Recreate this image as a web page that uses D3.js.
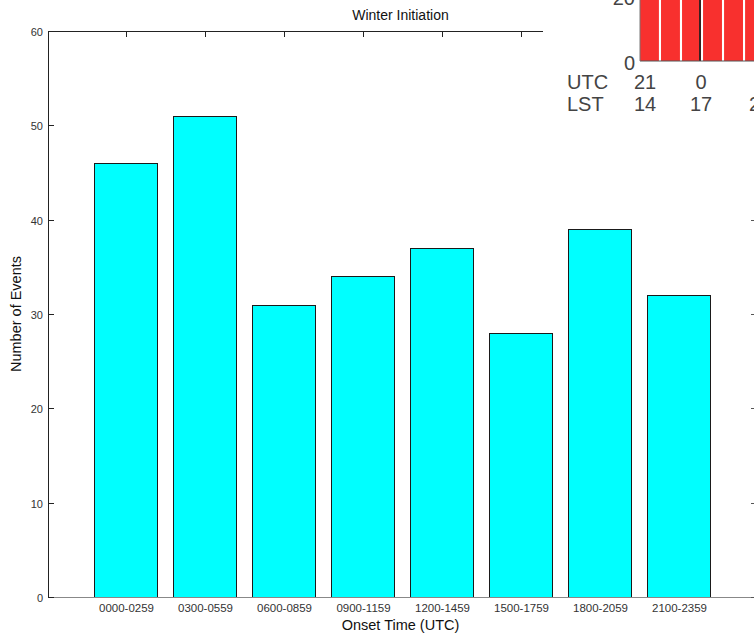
<!DOCTYPE html>
<html>
<head>
<script src="https://d3js.org/d3.v7.min.js" charset="utf-8"></script>
<style>
    body{ margin:0; background:white; }
    text{ font-family:"Liberation Sans", Arial, sans-serif; }
</style>
</head>
<body>
<div id="chart"></div>
<script>
    // main chart data
    var categories = ["0000-0259","0300-0559","0600-0859","0900-1159","1200-1459","1500-1759","1800-2059","2100-2359"]
    var counts = [46,51,31,34,37,28,39,32]
    var yTicks = [0,10,20,30,40,50,60]

    // inset (cropped figure in the corner)
    var insetValues = [27,29,31,30,28,30]
    var insetUtc = ["21","0","3"]
    var insetLst = ["14","17","20"]

    var width = 754, height = 636
    var mLeft = 48, mRight = 759, mTop = 31, mBottom = 597

    var svg = d3.select("#chart").append("svg")
        .attr("width",width).attr("height",height)

    var xScale = d3.scaleLinear().domain([0,categories.length+1]).range([mLeft,mRight])
    var yScale = d3.scaleLinear().domain([0,60]).range([mBottom,mTop])
    var barW = (xScale(1)-xScale(0))*0.8

    // bars
    svg.selectAll("rect.bar")
        .data(counts)
        .enter()
        .append("rect")
        .attr("class","bar")
        .attr("x",function(d,i){return Math.round(xScale(i+1)-barW/2)-0.5})
        .attr("y",function(d){return Math.round(yScale(d))+0.5})
        .attr("width",Math.round(barW))
        .attr("height",function(d){return Math.round(mBottom-yScale(d))})
        .attr("fill","#00ffff")
        .attr("stroke","#1a1a1a")
        .attr("stroke-width",1)

    // frame
    svg.append("line").attr("x1",mLeft+0.5).attr("x2",mLeft+0.5).attr("y1",mTop).attr("y2",mBottom)
        .attr("stroke","#222")
    svg.append("line").attr("x1",mLeft).attr("x2",mRight).attr("y1",mTop+0.5).attr("y2",mTop+0.5)
        .attr("stroke","#222")
    svg.append("line").attr("x1",mLeft).attr("x2",mRight).attr("y1",mBottom+0.5).attr("y2",mBottom+0.5)
        .attr("stroke","#888")

    // y ticks left and right
    yTicks.forEach(function(t){
        var y = Math.round(yScale(t))+0.5
        svg.append("line").attr("x1",mLeft).attr("x2",mLeft+6).attr("y1",y).attr("y2",y).attr("stroke","#222")
        svg.append("line").attr("x1",mRight-8).attr("x2",mRight).attr("y1",y).attr("y2",y).attr("stroke","#555")
        svg.append("text").text(t).attr("x",mLeft-5).attr("y",y+4)
            .attr("text-anchor","end").attr("font-size",11).attr("fill","#333")
    })

    // top ticks at bar centers, category labels below
    categories.forEach(function(c,i){
        var x = Math.round(xScale(i+1))-0.5
        svg.append("line").attr("x1",x).attr("x2",x).attr("y1",mTop).attr("y2",mTop+6).attr("stroke","#222")
        svg.append("text").text(c).attr("x",xScale(i+1)-0.5).attr("y",mBottom+15)
            .attr("text-anchor","middle").attr("font-size",11.5).attr("fill","#333")
    })

    svg.append("text").text("Winter Initiation").attr("x",(mLeft+mRight)/2-3).attr("y",20)
        .attr("text-anchor","middle").attr("font-size",14).attr("fill","#111")
    svg.append("text").text("Onset Time (UTC)").attr("x",(mLeft+mRight)/2-3).attr("y",630)
        .attr("text-anchor","middle").attr("font-size",14.5).attr("fill","#111")
    svg.append("text").text("Number of Events")
        .attr("transform","translate(21,"+((mTop+mBottom)/2)+") rotate(-90)")
        .attr("text-anchor","middle").attr("font-size",14.5).attr("fill","#111")

    // inset figure
    var inset = svg.append("g")
    inset.append("rect").attr("x",543).attr("y",0).attr("width",width-543).attr("height",128)
        .attr("fill","white")

    var iBase = 61
    var iy = d3.scaleLinear().domain([0,20]).range([iBase,-2])
    var ix = d3.scaleBand().domain(d3.range(insetValues.length)).range([640,764]).paddingInner(0.1)
    inset.selectAll("rect.ib")
        .data(insetValues)
        .enter()
        .append("rect")
        .attr("class","ib")
        .attr("x",function(d,i){return ix(i)})
        .attr("y",function(d){return iy(d)})
        .attr("width",ix.bandwidth())
        .attr("height",function(d){return iBase-iy(d)})
        .attr("fill","#f8302e")
    inset.append("line").attr("x1",700).attr("x2",700).attr("y1",0).attr("y2",iBase)
        .attr("stroke","#3a2020").attr("stroke-width",2)
    inset.append("line").attr("x1",640).attr("x2",754).attr("y1",iBase).attr("y2",iBase)
        .attr("stroke","#555").attr("stroke-width",1)
    inset.append("line").attr("x1",640).attr("x2",640).attr("y1",0).attr("y2",iBase)
        .attr("stroke","#777").attr("stroke-width",1)

    inset.append("text").text("0").attr("x",635).attr("y",70).attr("text-anchor","end")
        .attr("font-size",20).attr("fill","#444")
    inset.append("text").text("20").attr("x",635).attr("y",5).attr("text-anchor","end")
        .attr("font-size",20).attr("fill","#444")

    var ilx = d3.scaleLinear().domain([0,3]).range([645,701])
    inset.append("text").text("UTC").attr("x",567).attr("y",89).attr("font-size",20).attr("fill","#444")
    inset.append("text").text("LST").attr("x",567).attr("y",111).attr("font-size",20).attr("fill","#444")
    insetUtc.forEach(function(t,i){
        inset.append("text").text(t).attr("x",i==2?762:ilx(i*3)).attr("y",89).attr("text-anchor","middle")
            .attr("font-size",20).attr("fill","#444")
    })
    insetLst.forEach(function(t,i){
        inset.append("text").text(t).attr("x",i==2?760:ilx(i*3)).attr("y",111).attr("text-anchor","middle")
            .attr("font-size",20).attr("fill","#444")
    })
</script>
</body>
</html>
